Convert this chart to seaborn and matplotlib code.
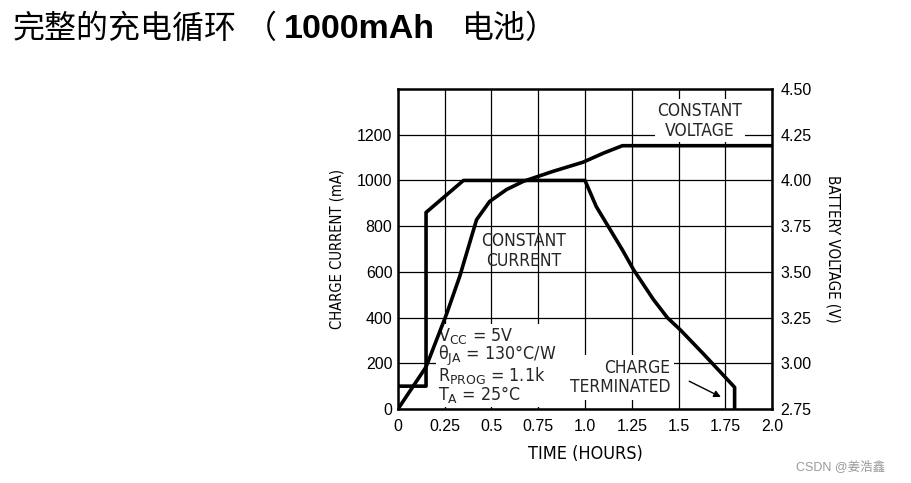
import matplotlib
matplotlib.use("Agg")
import matplotlib.pyplot as plt
import seaborn as sns
import pandas as pd
from matplotlib import font_manager as fm
from matplotlib.patches import Rectangle

sns.set_theme(style="white")
plt.rcParams['font.family'] = ['Liberation Sans', 'DejaVu Sans']

# condensed font for the labels (DejaVu Sans Condensed)
COND = fm.FontProperties(family="DejaVu Sans", stretch="condensed")
plt.rcParams['mathtext.fontset'] = 'custom'
math_font = 'Liberation Sans'
try:
    fp = fm.FontProperties('DejaVu Sans:stretch=condensed')
    if 'condensed' in fm.findfont(fp).lower():
        math_font = 'DejaVu Sans:stretch=condensed'
except Exception:
    pass
plt.rcParams['mathtext.rm'] = math_font
plt.rcParams['mathtext.it'] = math_font
plt.rcParams['mathtext.bf'] = math_font


def cond(size):
    p = COND.copy()
    p.set_size(size)
    return p


# ---------------- data ----------------
time_current = [0.0, 0.15, 0.15, 0.25, 0.35, 1.0, 1.06, 1.2, 1.26, 1.365, 1.44, 1.51, 1.63, 1.80, 1.80]
current_ma = [100, 100, 860, 930, 1000, 1000, 886, 696, 609, 480, 400, 346, 244, 95, 0]

time_voltage = [0.0, 0.15, 0.26, 0.33, 0.42, 0.49, 0.58, 0.67, 0.83, 0.99, 1.10, 1.20, 2.0]
voltage_v = [2.75, 2.98, 3.27, 3.475, 3.785, 3.885, 3.95, 3.995, 4.05, 4.10, 4.15, 4.19, 4.19]

x_ticks = [0, 0.25, 0.5, 0.75, 1.0, 1.25, 1.5, 1.75, 2.0]
x_tick_labels = ["0", "0.25", "0.5", "0.75", "1.0", "1.25", "1.5", "1.75", "2.0"]
current_ticks = [0, 200, 400, 600, 800, 1000, 1200]
voltage_ticks = [2.75, 3.00, 3.25, 3.50, 3.75, 4.00, 4.25, 4.50]
voltage_tick_labels = ["2.75", "3.00", "3.25", "3.50", "3.75", "4.00", "4.25", "4.50"]

df_i = pd.DataFrame({"t": time_current, "i": current_ma})
df_v = pd.DataFrame({"t": time_voltage, "v": voltage_v})

# ---------------- figure ----------------
fig = plt.figure(figsize=(9.12, 4.83), dpi=100)
ax = fig.add_axes([0.4364, 0.1532, 0.4101, 0.6625])
ax2 = ax.twinx()

sns.lineplot(data=df_i, x="t", y="i", ax=ax, color="black", lw=2.6,
             estimator=None, sort=False, zorder=5)
sns.lineplot(data=df_v, x="t", y="v", ax=ax2, color="black", lw=2.6,
             estimator=None, sort=False, zorder=5)

ax.set_xlim(0, 2.0)
ax.set_ylim(0, 1400)
ax2.set_ylim(2.75, 4.50)

ax.set_xticks(x_ticks, x_tick_labels)
ax.set_yticks(current_ticks)
ax2.set_yticks(voltage_ticks, voltage_tick_labels)

ax.grid(True, color="black", lw=0.9)
ax.set_axisbelow(True)
ax2.grid(False)

ax.tick_params(axis="x", length=0, labelsize=11.5, pad=7, colors="black")
ax.tick_params(axis="y", length=0, labelsize=11.5, pad=4, colors="black")
ax2.tick_params(axis="y", length=0, labelsize=11.5, pad=6, colors="black")

for s in ax.spines.values():
    s.set_color("black")
    s.set_linewidth(1.8)
    s.set_visible(True)
for s in ax2.spines.values():
    s.set_visible(False)

ax.set_xlabel("TIME (HOURS)", fontproperties=cond(13), labelpad=8, color="black")
ax.set_ylabel("CHARGE CURRENT (mA)", fontproperties=cond(10.6), labelpad=9, color="black")
ax2.set_ylabel("BATTERY VOLTAGE (V)", fontproperties=cond(10.8), rotation=270,
               va="bottom", labelpad=10, color="black")

ax.text(1.615, 1262, "CONSTANT\nVOLTAGE", ha="center", va="center",
        fontproperties=cond(12.5), linespacing=1.15,
        bbox=dict(facecolor="white", edgecolor="none", pad=2), zorder=3)
ax.text(0.674, 690, "CONSTANT\nCURRENT", ha="center", va="center",
        fontproperties=cond(12.5), linespacing=1.15, zorder=3)

# white background behind the lower annotations (hides the grid there)
ax.add_patch(Rectangle((0.84, 50), 0.26, 185, facecolor="white", edgecolor="none", zorder=2.5))

params = (r"V$_{\rm CC}$ = 5V" "\n" r"θ$_{\rm JA}$ = 130°C/W" "\n"
          r"R$_{\rm PROG}$ = 1.1k" "\n" r"T$_{\rm A}$ = 25°C")
ax.text(0.215, 362, params, ha="left", va="top", fontproperties=cond(12.8), linespacing=0.84,
        bbox=dict(facecolor="white", edgecolor="none", pad=1.5), zorder=3)

ax.text(1.455, 138, "CHARGE\nTERMINATED", ha="right", va="center", multialignment="right",
        fontproperties=cond(12.5), linespacing=1.1,
        bbox=dict(facecolor="white", edgecolor="none", pad=3), zorder=3)
ax.annotate("", xy=(1.74, 47), xytext=(1.544, 127),
            arrowprops=dict(arrowstyle="-|>", color="black", lw=1.0, mutation_scale=10),
            zorder=4)

# ---------------- title ----------------
title_base = 1 - 37.5 / 483
cjk = ["Noto Sans CJK SC", "DejaVu Sans"]
fig.text(13 / 912, title_base, "完整的充电循环", fontsize=23, va="baseline",
         family=cjk, color="black")
fig.text(245 / 912, title_base, "（", fontsize=23, va="baseline", family=cjk, color="black")
fig.text(284 / 912, title_base, "1000mAh", fontsize=24.5, va="baseline", weight="bold",
         family=["Liberation Sans", "DejaVu Sans"], color="black")
fig.text(462 / 912, title_base, "电池）", fontsize=23, va="baseline", family=cjk, color="black")

fig.text(796 / 912, 1 - 470 / 483, "CSDN @姜浩鑫", fontsize=9, va="baseline",
         family=["Liberation Sans", "Noto Sans CJK SC"], color="#999999")

fig.savefig("out.png", dpi=100, facecolor="white")
